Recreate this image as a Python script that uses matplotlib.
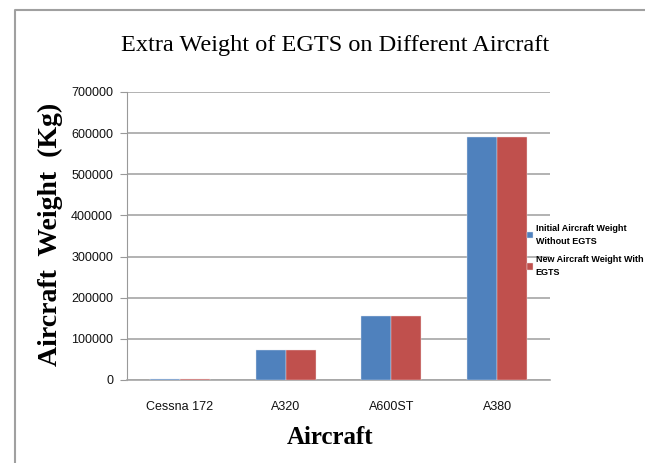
import matplotlib
matplotlib.use("Agg")
import matplotlib.pyplot as plt
import numpy as np
from matplotlib.lines import Line2D

# values (kg)
aircraft = ["Cessna 172", "A320", "A600ST", "A380"]
initial_weight = [3500, 73500, 155500, 590000]
new_weight = [3500, 73900, 155900, 590400]
series_names = ["Initial Aircraft Weight\nWithout EGTS",
                "New Aircraft Weight With\nEGTS"]
yticks = [0, 100000, 200000, 300000, 400000, 500000, 600000, 700000]

sans = ["Liberation Sans", "DejaVu Sans"]
serif = ["Liberation Serif", "DejaVu Serif"]

fig = plt.figure(figsize=(6.45, 4.63), dpi=100)
ax = fig.add_axes([127/645, 1-380/463, (550-127)/645, (380-92)/463])

x = np.arange(len(aircraft))
w = 0.284
ax.bar(x - w/2, initial_weight, w, color="#4F81BD", edgecolor="#dfe6f0", linewidth=0.3,
       label=series_names[0], zorder=3)
ax.bar(x + w/2, new_weight, w, color="#C0504D", edgecolor="#f0dede", linewidth=0.3,
       label=series_names[1], zorder=3)

ax.set_xlim(-0.5, 3.5)
ax.set_ylim(0, 700000)
ax.set_yticks(yticks)
ax.set_yticklabels([str(t) for t in yticks], family=sans, fontsize=9, color="#111111")
ax.set_xticks(x)
ax.set_xticklabels(aircraft, family=sans, fontsize=9, color="#111111")
ax.tick_params(axis="x", length=0, pad=15)
ax.tick_params(axis="y", length=5, color="#999999", pad=5)
ax.grid(axis="y", color="#a6a6a6", linewidth=1.2, zorder=0)
for s in ["top", "right"]:
    ax.spines[s].set_visible(False)
ax.spines["left"].set_color("#999999")
ax.spines["bottom"].set_color("#a6a6a6")
ax.spines["bottom"].set_linewidth(1.2)

fig.text(335/645, 1-46/463, "Extra Weight of EGTS on Different Aircraft",
         family=serif, fontsize=17.5, ha="center", va="center")
fig.text(50/645, 1-234/463, "Aircraft  Weight  (Kg)", family=serif, fontsize=20,
         fontweight="bold", rotation=90, ha="center", va="center")
fig.text(330/645, 1-438/463, "Aircraft", family=serif, fontsize=18,
         fontweight="bold", ha="center", va="center")

leg = ax.legend(loc="upper left", bbox_to_anchor=(527/645, 1-224/463),
                bbox_transform=fig.transFigure, frameon=False,
                prop={"family": sans, "size": 6.5, "weight": "bold"},
                handlelength=0.7, handleheight=0.7, handletextpad=0.25,
                labelspacing=1.1, borderaxespad=0, borderpad=0)
for t in leg.get_texts():
    t.set_linespacing(1.5)

# page frame around the figure
fig.add_artist(Line2D([15/645, 15/645, 1], [0, 1-10/463, 1-10/463],
                      transform=fig.transFigure, color="#a0a0a0", linewidth=1.5))

fig.savefig("out.png", dpi=100)
